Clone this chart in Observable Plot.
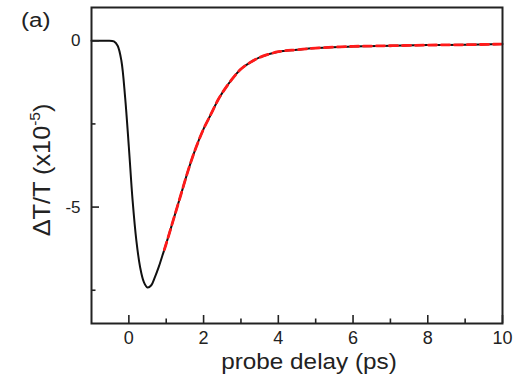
<!DOCTYPE html>
<html>
<head>
<meta charset="utf-8">
<script src="https://cdn.jsdelivr.net/npm/d3@7"></script>
<script src="https://cdn.jsdelivr.net/npm/@observablehq/plot@0.6"></script>
<style>
  html, body { margin: 0; padding: 0; background: #fff; }
  #chart { width: 520px; height: 378px; }
  svg { font-family: "Liberation Sans", Arial, sans-serif; }
</style>
</head>
<body>
<div id="chart"></div>
<script>
// Measured signal (black)
const delay = [-1, -0.6, -0.4, -0.3, -0.2, -0.1, 0, 0.1, 0.2, 0.3, 0.4, 0.5, 0.6, 0.7, 0.8, 0.9, 1.0, 1.2, 1.4, 1.6, 1.8, 2.0, 2.2, 2.4, 2.6, 2.8, 3.0, 3.25, 3.5, 4, 4.5, 5, 6, 7, 8, 9, 10];
const signal = [0, 0, -0.02, -0.15, -0.6, -1.7, -3.2, -4.8, -6.0, -6.8, -7.25, -7.42, -7.35, -7.1, -6.8, -6.45, -6.1, -5.35, -4.6, -3.85, -3.2, -2.65, -2.2, -1.75, -1.4, -1.1, -0.85, -0.65, -0.5, -0.33, -0.27, -0.22, -0.17, -0.15, -0.13, -0.12, -0.1];
// Exponential fit (red dashed)
const fitDelay = [0.95, 1.0, 1.2, 1.4, 1.6, 1.8, 2.0, 2.2, 2.4, 2.6, 2.8, 3.0, 3.25, 3.5, 4, 4.5, 5, 6, 7, 8, 9, 10];
const fitValue = [-6.28, -6.1, -5.35, -4.6, -3.85, -3.2, -2.65, -2.2, -1.75, -1.4, -1.1, -0.85, -0.65, -0.5, -0.33, -0.27, -0.22, -0.17, -0.15, -0.13, -0.12, -0.1];

const xMajor = [0, 2, 4, 6, 8, 10];
const xMinor = [1, 3, 5, 7, 9];
const yMajor = [0, -5];
const yMinor = [-2.5, -7.5];

const measured = delay.map((x, i) => ({x, y: signal[i]}));
const fit = fitDelay.map((x, i) => ({x, y: fitValue[i]}));

const W = 520, H = 378;
const mL = 91, mR = 18, mT = 7, mB = 55;
const innerW = W - mL - mR, innerH = H - mT - mB;
const ink = "#222";

const plot = Plot.plot({
  width: W,
  height: H,
  marginLeft: mL,
  marginRight: mR,
  marginTop: mT,
  marginBottom: mB,
  style: {fontFamily: '"Liberation Sans", Arial, sans-serif', color: ink, background: "#fff"},
  x: {domain: [-1, 10], label: null},
  y: {domain: [-8.5, 1], label: null},
  marks: [
    Plot.line(measured, {x: "x", y: "y", stroke: "#111", strokeWidth: 2, curve: "catmull-rom"}),
    Plot.line(fit, {x: "x", y: "y", stroke: "#ff1a1a", strokeWidth: 2.8, strokeDasharray: "8,5", curve: "catmull-rom"}),
    Plot.axisX({ticks: xMajor, tickSize: 0, tickPadding: 8, tickFormat: d => String(d), fontSize: 18, fill: ink}),
    Plot.axisY({ticks: yMajor, tickSize: 0, tickPadding: 11, tickFormat: d => String(d), fontSize: 17, fill: ink}),
    // inward ticks
    Plot.tickX(xMajor, {x: d => d, insetTop: innerH - 8, stroke: ink, strokeWidth: 1.6}),
    Plot.tickX(xMinor, {x: d => d, insetTop: innerH - 4.5, stroke: ink, strokeWidth: 1.6}),
    Plot.tickY(yMajor, {y: d => d, insetRight: innerW - 8, stroke: ink, strokeWidth: 1.6}),
    Plot.tickY(yMinor, {y: d => d, insetRight: innerW - 4.5, stroke: ink, strokeWidth: 1.6}),
    Plot.frame({stroke: ink, strokeWidth: 2})
  ]
});

const svg = d3.select(plot);
svg.append("text")
  .attr("transform", "translate(21,27) scale(1.15,1)")
  .attr("text-anchor", "start")
  .attr("font-size", 21).attr("fill", ink)
  .text("(a)");
svg.append("text")
  .attr("transform", "translate(309,369) scale(1.13,1)")
  .attr("text-anchor", "middle")
  .attr("font-size", 21.5).attr("fill", ink)
  .text("probe delay (ps)");
const yl = svg.append("text")
  .attr("transform", "translate(50,170) rotate(-90) scale(1.1,1)")
  .attr("text-anchor", "middle")
  .attr("font-size", 23).attr("fill", ink);
yl.append("tspan").text("ΔT/T (x10");
yl.append("tspan").attr("font-size", 14).attr("dy", -10).text("-5");
yl.append("tspan").attr("dy", 10).text(")");

document.getElementById("chart").appendChild(plot);
</script>
</body>
</html>
